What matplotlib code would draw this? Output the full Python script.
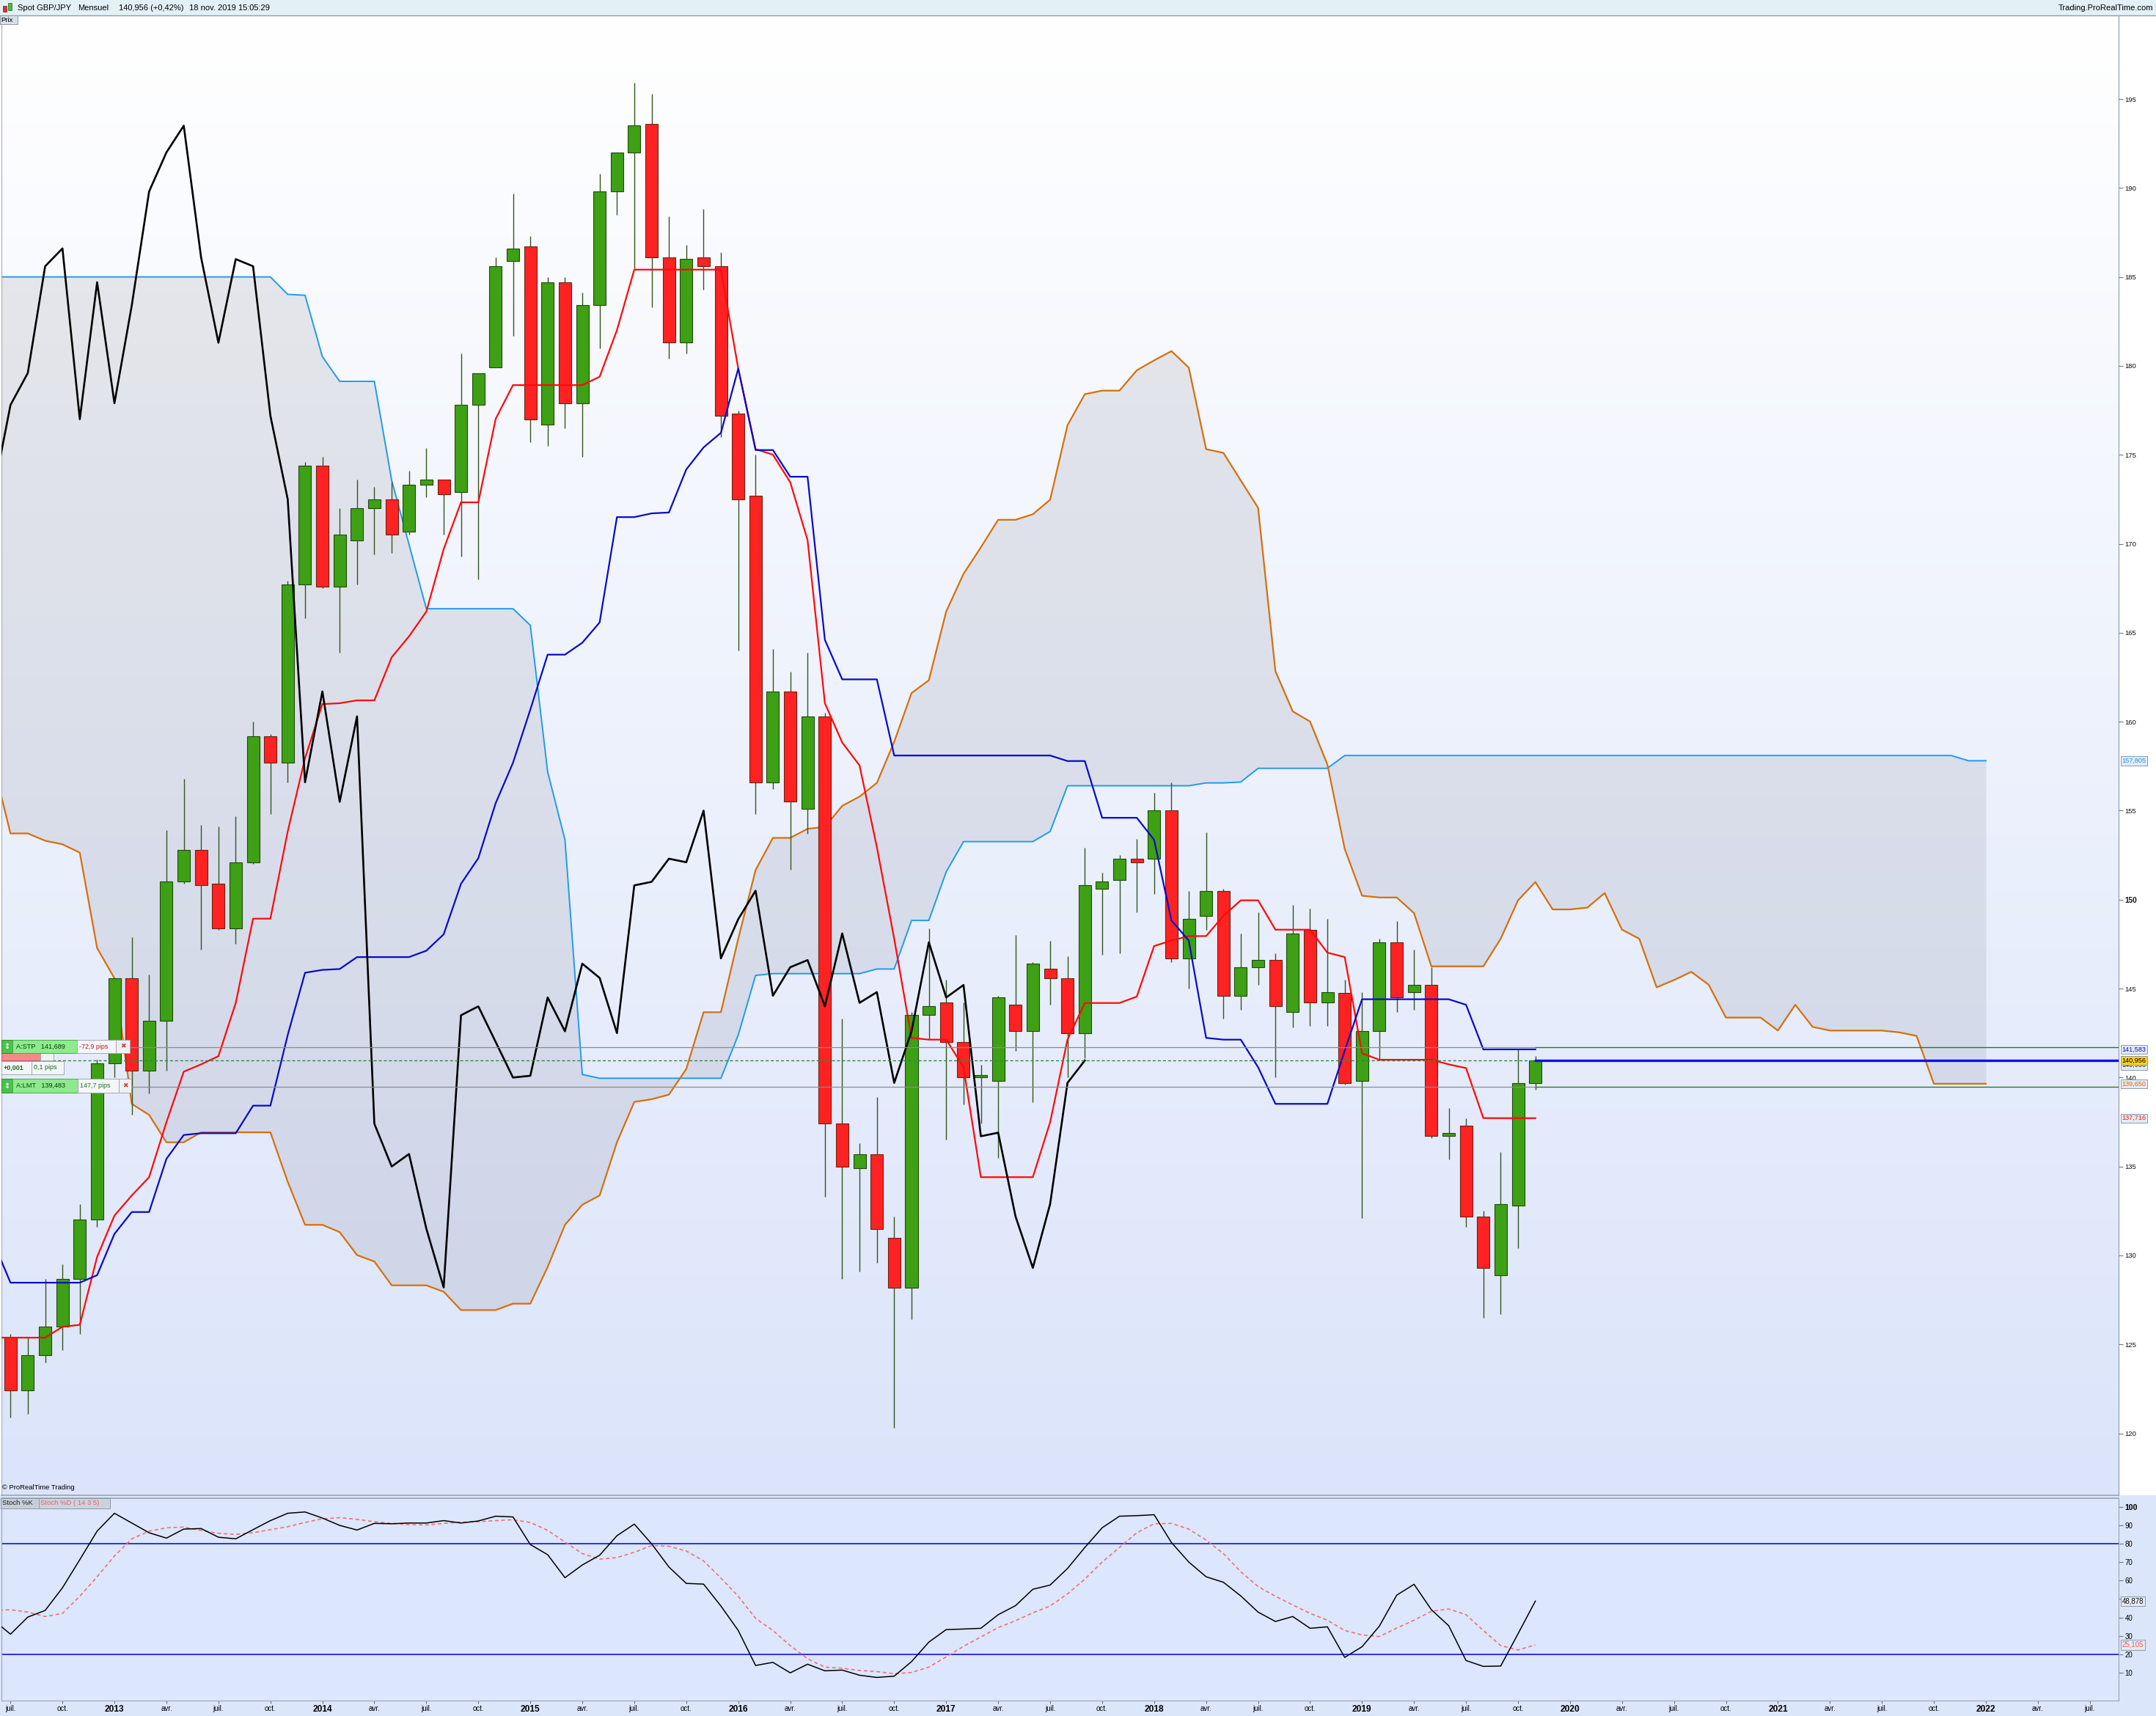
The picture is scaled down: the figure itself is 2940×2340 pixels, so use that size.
import numpy as np
import matplotlib
matplotlib.use("Agg")
import matplotlib.pyplot as plt
from matplotlib.patches import Rectangle
from matplotlib.transforms import blended_transform_factory

# ---------------- data ----------------
# Monthly candles GBP/JPY, Jul 2012 .. Nov 2019 ; month index relative to Jan 2013
first_candle_month = -6
candle_open = [125.4, 122.4, 124.4, 126.0, 128.7, 132.0, 140.8, 145.6, 140.4, 143.2,
               151.0, 152.8, 150.9, 148.4, 152.1, 159.2, 157.7, 167.7, 174.4, 167.6,
               170.2, 172.0, 172.5, 170.7, 173.3, 173.6, 172.9, 177.8, 179.9, 185.9,
               186.7, 176.7, 184.7, 177.9, 183.4, 189.8, 192.0, 193.6, 186.1, 181.3,
               186.1, 185.6, 177.3, 172.7, 156.6, 161.7, 155.1, 160.3, 137.4, 134.9,
               135.7, 131.0, 128.2, 143.5, 144.2, 142.0, 140.0, 139.8, 144.1, 142.6,
               146.1, 145.6, 142.5, 150.6, 151.1, 152.3, 152.3, 155.0, 146.7, 149.1,
               150.5, 144.6, 146.2, 146.6, 143.7, 148.3, 144.2, 144.75, 139.8, 142.6,
               147.6, 144.8, 145.2, 136.7, 137.3, 132.2, 128.9, 132.8, 139.7]
candle_high = [125.6, 125.4, 128.7, 129.5, 132.9, 141.0, 145.6, 147.9, 145.8, 153.9,
               156.8, 154.2, 154.1, 154.7, 160.0, 159.3, 167.9, 174.6, 174.9, 172.0,
               173.6, 173.2, 173.5, 174.1, 175.4, 173.6, 180.7, 179.6, 186.1, 189.7,
               187.3, 185.0, 185.0, 184.1, 190.8, 192.0, 195.9, 195.3, 188.4, 186.8,
               188.8, 186.4, 177.5, 175.0, 164.1, 162.8, 163.9, 160.5, 143.3, 136.3,
               138.9, 132.2, 143.7, 148.4, 145.5, 144.2, 140.7, 144.6, 148.0, 146.5,
               147.7, 146.8, 152.9, 151.5, 152.5, 153.4, 156.0, 156.6, 150.5, 153.8,
               150.6, 148.1, 149.3, 147.0, 149.7, 149.5, 148.9, 145.5, 144.8, 147.8,
               148.8, 147.2, 146.2, 138.3, 137.7, 132.5, 135.8, 141.6, 141.2]
candle_low = [120.9, 121.1, 124.0, 124.7, 125.6, 131.6, 140.0, 137.9, 139.1, 140.4,
              150.9, 147.2, 148.3, 147.5, 152.0, 154.8, 156.6, 165.8, 167.5, 163.9,
              167.7, 169.4, 169.5, 170.5, 172.6, 170.5, 169.3, 168.0, 180.4, 181.7,
              175.7, 175.5, 176.5, 174.9, 181.0, 188.5, 185.5, 183.3, 180.4, 180.7,
              184.3, 176.0, 164.0, 154.8, 156.2, 151.7, 153.7, 133.3, 128.7, 129.1,
              129.6, 120.3, 126.4, 142.1, 136.5, 138.5, 137.4, 135.5, 141.5, 138.6,
              144.1, 140.0, 141.1, 146.9, 147.0, 149.3, 150.3, 146.5, 145.0, 148.3,
              143.3, 143.8, 145.2, 140.0, 142.8, 142.9, 142.9, 139.6, 132.1, 141.0,
              143.7, 143.8, 136.6, 135.4, 131.6, 126.5, 126.7, 130.4, 139.3]
candle_close = [122.4, 124.4, 126.0, 128.7, 132.0, 140.8, 145.6, 140.4, 143.2, 151.0,
                152.8, 150.8, 148.4, 152.1, 159.2, 157.7, 167.7, 174.4, 167.6, 170.5,
                172.0, 172.5, 170.5, 173.3, 173.6, 172.8, 177.8, 179.6, 185.6, 186.6,
                177.0, 184.7, 177.9, 183.4, 189.8, 192.0, 193.5, 186.1, 181.3, 186.0,
                185.6, 177.2, 172.5, 156.6, 161.7, 155.5, 160.3, 137.4, 135.0, 135.7,
                131.5, 128.2, 143.5, 144.0, 142.0, 140.0, 140.1, 144.5, 142.6, 146.4,
                145.6, 142.5, 150.8, 151.0, 152.3, 152.1, 155.0, 146.7, 148.9, 150.5,
                144.6, 146.2, 146.6, 144.0, 148.1, 144.2, 144.8, 139.7, 142.6, 147.6,
                144.5, 145.2, 136.7, 136.9, 132.2, 129.3, 132.9, 139.7, 140.956]

# Ichimoku lines, Jun 2012 .. Nov 2019
line_first_month = -7
tenkan = [125.38, 125.38, 125.38, 125.38, 125.99, 126.10, 129.92, 132.24, 133.37, 134.40, 137.49,
          140.33, 140.74, 141.20, 144.19, 148.93, 148.93, 153.83, 157.95, 160.99, 161.04,
          161.20, 161.20, 163.62, 164.80, 166.19, 169.70, 172.33, 172.33, 177.02, 178.92,
          178.92, 178.92, 178.92, 178.92, 179.39, 182.01, 185.41, 185.41, 185.41, 185.41,
          185.41, 185.41, 179.85, 175.32, 175.01, 173.46, 170.21, 161.04, 158.83, 157.54,
          152.95, 147.80, 142.23, 142.13, 142.13, 140.58, 134.40, 134.40, 134.40, 134.40,
          137.49, 142.13, 144.19, 144.19, 144.19, 144.55, 147.39, 147.70, 147.95, 147.95,
          149.09, 149.96, 149.96, 148.31, 148.31, 148.31, 147.02, 146.77, 141.36, 141.00,
          141.00, 141.00, 141.00, 140.74, 140.53, 137.72, 137.716, 137.716, 137.716]
kijun = [130.79, 128.47, 128.47, 128.47, 128.47, 128.47, 128.89, 131.21, 132.44, 132.44, 135.43,
         136.77, 136.87, 136.87, 136.87, 138.42, 138.42, 142.39, 145.89, 146.05, 146.10,
         146.77, 146.77, 146.77, 146.77, 147.13, 148.05, 150.89, 152.33, 155.42, 157.69,
         160.68, 163.77, 163.77, 164.44, 165.58, 171.50, 171.50, 171.71, 171.76, 174.18,
         175.42, 176.24, 179.85, 175.27, 175.27, 173.77, 173.77, 164.60, 162.38, 162.38,
         162.38, 158.10, 158.10, 158.10, 158.10, 158.10, 158.10, 158.10, 158.10, 158.10,
         158.10, 157.79, 157.79, 154.60, 154.60, 154.60, 153.36, 148.83, 147.70, 142.23,
         142.13, 142.13, 140.58, 138.52, 138.52, 138.52, 138.52, 141.51, 144.40, 144.40,
         144.40, 144.40, 144.40, 144.40, 144.09, 141.58, 141.583, 141.583, 141.583]
# Senkou spans (plotted 26 months ahead), Jun 2012 .. Jan 2022
senkou_a = [185.00, 185.00, 185.00, 185.00, 185.00, 185.00, 185.00, 185.00, 185.00, 185.00,
            185.00, 185.00, 185.00, 185.00, 185.00, 185.00, 185.00, 184.02, 183.97, 180.52,
            179.13, 179.13, 179.13, 173.56, 169.96, 166.35, 166.35, 166.35, 166.35, 166.35,
            166.35, 165.42, 157.18, 153.36, 140.17, 139.96, 139.96, 139.96, 139.96, 139.96,
            139.96, 139.96, 139.96, 142.39, 145.74, 145.84, 145.84, 145.84, 145.84, 145.84,
            145.84, 146.10, 146.10, 148.83, 148.83, 151.56, 153.26, 153.26, 153.26, 153.26,
            153.26, 153.83, 156.40, 156.40, 156.40, 156.40, 156.40, 156.40, 156.40, 156.40,
            156.56, 156.56, 156.61, 157.38, 157.38, 157.38, 157.38, 157.38, 158.10, 158.10,
            158.10, 158.10, 158.10, 158.10, 158.10, 158.10, 158.10, 158.10, 158.10, 158.10,
            158.10, 158.10, 158.10, 158.10, 158.10, 158.10, 158.10, 158.10, 158.10, 158.10,
            158.10, 158.10, 158.10, 158.10, 158.10, 158.10, 158.10, 158.10, 158.10, 158.10,
            158.10, 158.10, 158.10, 158.10, 157.805, 157.805]
senkou_b = [157.69, 153.72, 153.72, 153.31, 153.11, 152.64, 147.28, 145.58, 138.52, 137.90,
            136.36, 136.36, 136.92, 136.92, 136.92, 136.92, 136.92, 134.14, 131.72, 131.72,
            131.31, 130.02, 129.66, 128.32, 128.32, 128.32, 127.96, 126.93, 126.93, 126.93,
            127.29, 127.29, 129.35, 131.72, 132.85, 133.37, 136.36, 138.63, 138.78, 139.04,
            140.48, 143.67, 143.67, 147.80, 151.66, 153.47, 153.47, 153.98, 154.08, 155.27,
            155.79, 156.56, 158.87, 161.61, 162.33, 166.19, 168.31, 169.80, 171.35, 171.35,
            171.66, 172.48, 176.66, 178.41, 178.61, 178.61, 179.75, 180.31, 180.83, 179.90,
            175.32, 175.11, 173.56, 172.02, 162.84, 160.58, 160.01, 157.59, 152.85, 150.22,
            150.12, 150.12, 149.24, 146.25, 146.25, 146.25, 146.25, 147.80, 149.96, 150.99,
            149.45, 149.45, 149.55, 150.37, 148.31, 147.80, 145.07, 145.48, 145.94, 145.22,
            143.37, 143.37, 143.37, 142.64, 144.09, 142.85, 142.64, 142.64, 142.64, 142.64,
            142.54, 142.34, 139.65, 139.65, 139.65, 139.65]
chikou_shift = 26

# Stochastic (14,3,5), Jun 2012 .. Nov 2019
stoch_k = [38.7, 30.9, 40.2, 43.8, 56.1, 71.4, 86.9, 96.6, 91.3, 86.0, 83.1,
           88.0, 88.3, 83.6, 82.7, 87.7, 92.6, 96.6, 97.3, 94.0, 90.0,
           87.5, 91.1, 90.9, 91.3, 91.3, 92.6, 91.3, 92.4, 95.0, 94.6,
           79.6, 74.1, 61.6, 68.5, 73.8, 84.4, 90.7, 80.0, 67.4, 58.5,
           58.1, 46.2, 32.9, 13.9, 15.6, 9.9, 14.6, 11.0, 11.4, 8.6,
           7.4, 8.1, 16.0, 26.6, 33.4, 33.7, 34.1, 41.5, 46.4, 55.3,
           57.6, 66.6, 78.0, 88.7, 95.0, 95.3, 95.8, 80.7, 70.1, 62.1,
           59.1, 51.7, 42.9, 37.8, 40.5, 34.1, 34.9, 18.3, 24.1, 35.3,
           52.1, 58.0, 44.2, 35.5, 16.6, 13.4, 13.6, 31.1, 48.878]
stoch_d = [43.7, 44.2, 42.9, 40.5, 42.2, 51.5, 62.1, 73.4, 82.7, 86.9, 88.7,
           89.1, 87.3, 85.7, 85.1, 86.0, 87.7, 89.3, 91.6, 93.6, 94.2,
           93.3, 92.0, 91.1, 90.4, 90.3, 91.1, 91.7, 92.0, 92.6, 93.1,
           91.6, 87.3, 81.0, 74.7, 71.7, 72.5, 75.4, 79.1, 78.7, 76.1,
           70.7, 61.4, 51.5, 39.5, 32.9, 24.7, 17.6, 13.0, 12.4, 11.2,
           10.6, 9.4, 10.1, 13.0, 18.6, 24.3, 29.4, 34.5, 38.2, 42.5,
           46.2, 52.8, 60.8, 70.1, 78.0, 86.0, 90.9, 91.1, 88.0, 82.0,
           74.7, 64.8, 56.8, 51.5, 46.8, 42.2, 38.5, 32.9, 30.5, 29.6,
           34.2, 38.5, 43.3, 44.6, 41.5, 32.9, 24.7, 22.3, 25.105]
stoch_levels = [80, 20]

# order levels
stop_level = 141.689
limit_level = 139.483

price_ticks = list(range(120, 200, 5))
stoch_ticks = list(range(10, 101, 10))
month_names = {3: 'avr.', 6: 'juil.', 9: 'oct.'}
axis_month_range = (-6, 114)

# ---------------- figure ----------------
W, H = 2940, 2340
DPI = 100
FONT = ['Liberation Sans', 'DejaVu Sans']
NARROW = ['Liberation Sans Narrow', 'Liberation Sans', 'DejaVu Sans']
plt.rcParams['font.family'] = FONT

fig = plt.figure(figsize=(W / DPI, H / DPI), dpi=DPI, facecolor='white')


def pbox(x0, y0, x1, y1, fc, ec='#9AA6AE', lw=0.7, z=20):
    r = Rectangle((x0 / W, 1 - y1 / H), (x1 - x0) / W, (y1 - y0) / H,
                  transform=fig.transFigure, fc=fc, ec=ec, lw=lw, zorder=z)
    fig.add_artist(r)


def ptext(x, y, s, size=6.5, color='black', ha='left', va='center',
          weight='normal', z=21, family=None):
    fig.text(x / W, 1 - y / H, s, fontsize=size, color=color, ha=ha, va=va,
             fontweight=weight, zorder=z, family=family if family else FONT)


L_PX, R_PX = 2, 2889
MAIN_TOP, MAIN_BOT = 21, 2039
ST_TOP, ST_BOT = 2043, 2319

# background strips
pbox(0, 0, W, MAIN_TOP, '#E3F1F7', ec='none', lw=0, z=-5)
pbox(0, MAIN_BOT, W, H, '#DCE6FB', ec='none', lw=0, z=-5)

ax = fig.add_axes([L_PX / W, 1 - MAIN_BOT / H, (R_PX - L_PX) / W, (MAIN_BOT - MAIN_TOP) / H])
axs = fig.add_axes([L_PX / W, 1 - ST_BOT / H, (R_PX - L_PX) / W, (ST_BOT - ST_TOP) / H])

XL = (-6.52, 115.66)
YL = (116.52, 199.70)
SYL = (-5.18, 104.78)

# gradient background of the price panel
top_c = np.array([255, 255, 255]) / 255.0
bot_c = np.array([219, 228, 250]) / 255.0
t = np.linspace(0, 1, 256)[:, None]
grad = (bot_c * (1 - t) + top_c * t)[:, None, :]
ax.imshow(grad, extent=[XL[0], XL[1], YL[0], YL[1]], origin='lower', aspect='auto', zorder=0)

# ---------------- price panel ----------------
cm = np.arange(len(candle_close)) + first_candle_month
o = np.array(candle_open)
c = np.array(candle_close)
hi = np.array(candle_high)
lo = np.array(candle_low)
lm = np.arange(len(tenkan)) + line_first_month
sm = np.arange(len(senkou_a)) + line_first_month

# cloud
ax.fill_between(sm, senkou_a, senkou_b, color='#7C7E8C', alpha=0.16, lw=0, zorder=1)
ax.plot(sm, senkou_a, color='#1E9BEF', lw=1.4, zorder=2)
ax.plot(sm, senkou_b, color='#D5700C', lw=1.6, zorder=2)

# candles
up = c >= o
body_bot = np.minimum(o, c)
body_h = np.maximum(np.abs(c - o), 0.12)
ax.vlines(cm, lo, hi, color='#34561E', lw=1.0, zorder=4)
ax.bar(cm[up], body_h[up], bottom=body_bot[up], width=0.72, color='#3EA014',
       edgecolor='#1F4A0C', linewidth=0.8, zorder=5)
ax.bar(cm[~up], body_h[~up], bottom=body_bot[~up], width=0.72, color='#FF2222',
       edgecolor='#6A2410', linewidth=0.8, zorder=5)

# tenkan / kijun / chikou
ax.plot(lm, tenkan, color='#FF0A0A', lw=1.6, zorder=6)
ax.plot(lm, kijun, color='#0A0AC8', lw=1.6, zorder=6)
ax.plot(cm - chikou_shift, c, color='black', lw=1.9, zorder=6)

# order / price levels
last_m = cm[-1]
last_price = c[-1]
ax.plot([XL[0], last_m], [stop_level] * 2, color='#8C8C8C', lw=0.9, zorder=7)
ax.plot([XL[0], last_m], [limit_level] * 2, color='#8C8C8C', lw=0.9, zorder=7)
ax.plot([XL[0], last_m], [last_price] * 2, color='#2E8B3E', lw=1.0, ls=(0, (3, 2)), zorder=7)
ax.plot([last_m, XL[1]], [stop_level] * 2, color='#1F7F1F', lw=1.0, zorder=7)
ax.plot([last_m, XL[1]], [limit_level] * 2, color='#1F7F1F', lw=1.0, zorder=7)
ax.plot([last_m, XL[1]], [last_price] * 2, color='#1010E6', lw=2.4, zorder=7)

ax.set_xlim(*XL)
ax.set_ylim(*YL)
ax.set_yticks(price_ticks, labels=[str(v) for v in price_ticks])
ax.yaxis.tick_right()
ax.tick_params(axis='y', direction='out', length=4, width=0.8, color='#6A7886',
               labelsize=6.8, pad=2, labelcolor='#111111')
for lab in ax.get_yticklabels():
    if lab.get_text() == '150':
        lab.set_fontweight('bold')
        lab.set_fontsize(7.2)
ax.tick_params(axis='x', bottom=False, labelbottom=False)
ax.spines['top'].set_visible(False)
ax.spines['right'].set_color('#8C9AA8')
ax.spines['left'].set_color('#A4AEB8')
ax.spines['bottom'].set_color('#98A4B0')
ax.spines['bottom'].set_linewidth(1.2)

# right axis value boxes
tr = blended_transform_factory(ax.transAxes, ax.transData)
xa = 1.0015
value_boxes = [
    (157.805, '157,805', '#1E9BEF', '#E4EAF2'),
    (140.70, '140,956', '#222222', '#E4EAF2'),
    (141.583, '141,583', '#1010C8', '#E4EAF2'),
    (139.650, '139,650', '#D5700C', '#E4EAF2'),
    (137.716, '137,716', '#FF1A1A', '#E4EAF2'),
    (last_price, '140,956', '#000000', '#FFD21E'),
]
for val, txt, col, fc in value_boxes:
    ax.text(xa, val, txt, transform=tr, fontsize=6.6, color=col, ha='left', va='center',
            clip_on=False, zorder=30,
            bbox=dict(boxstyle='square,pad=0.18', fc=fc, ec='#8A9AB0', lw=0.7))

ax.text(0.0005, 0.003, '\u00a9 ProRealTime Trading', transform=ax.transAxes, fontsize=6.8,
        family=NARROW, ha='left', va='bottom', zorder=8)

# ---------------- stochastic panel ----------------
axs.set_facecolor('#DCE6FC')
km = np.arange(len(stoch_k)) + line_first_month
for lvl in stoch_levels:
    axs.axhline(lvl, color='#2222E6', lw=1.3, zorder=2)
axs.plot(km, stoch_d, color='#F07272', lw=1.2, ls=(0, (3, 2.2)), zorder=3)
axs.plot(km, stoch_k, color='black', lw=1.1, zorder=4)
axs.set_xlim(*XL)
axs.set_ylim(*SYL)
# the "50" label sits under the %K value box in the reference
axs.set_yticks(stoch_ticks, labels=['' if v == 50 else str(v) for v in stoch_ticks])
axs.yaxis.tick_right()
axs.tick_params(axis='y', direction='out', length=4, width=0.8, color='#6A7886',
                labelsize=7, pad=2)
for lab in axs.get_yticklabels():
    lab.set_family(NARROW)
    if lab.get_text() == '100':
        lab.set_fontweight('bold')
        lab.set_fontsize(7.6)

xt = list(range(axis_month_range[0], axis_month_range[1] + 1, 3))
xlabels = []
for m in xt:
    mm = m % 12
    xlabels.append(str(2013 + m // 12) if mm == 0 else month_names[mm])
axs.set_xticks(xt, labels=xlabels)
axs.tick_params(axis='x', direction='out', length=3, width=0.8, color='#6A7886',
                labelsize=7, pad=1.5)
for lab in axs.get_xticklabels():
    lab.set_family(NARROW)
    if lab.get_text().isdigit():
        lab.set_fontweight('bold')
        lab.set_fontsize(8.6)
for s in ['top', 'bottom', 'right', 'left']:
    axs.spines[s].set_color('#98A4B0')
axs.spines['top'].set_linewidth(1.2)

tr2 = blended_transform_factory(axs.transAxes, axs.transData)
for val, txt, col in [(stoch_k[-1], '48,878', '#111111'), (stoch_d[-1], '25,105', '#F06060')]:
    axs.text(xa, val, txt, transform=tr2, fontsize=7, family=NARROW, color=col,
             ha='left', va='center', clip_on=False, zorder=30,
             bbox=dict(boxstyle='square,pad=0.18', fc='#E4EAF2', ec='#8A9AB0', lw=0.7))

# stochastic legend
pbox(1, 2043, 53, 2057, '#C6CED8', ec='#8E9AA6', z=20)
pbox(53, 2043, 150, 2057, '#CBD3DE', ec='#8E9AA6', z=20)
ptext(3, 2050, 'Stoch %K', size=6.8, color='#222222', family=NARROW)
ptext(55, 2050, 'Stoch %D ( 14 3 5)', size=6.8, color='#F06060', family=NARROW)

# ---------------- header ----------------
fig.add_artist(plt.Line2D([0, 1], [1 - 20.5 / H] * 2, transform=fig.transFigure,
                          color='#8E9CA8', lw=1.0, zorder=5))
pbox(4, 8, 9, 16, '#E03030', ec='#702020', lw=0.5, z=6)
pbox(11, 4, 16, 14, '#40C040', ec='#206020', lw=0.5, z=6)
ptext(24, 11, 'Spot GBP/JPY', size=8)
ptext(106, 11, 'Mensuel', size=8)
ptext(162, 11, '140,956 (+0,42%)', size=8)
ptext(258, 11, '18 nov. 2019 15:05:29', size=8)
ptext(2936, 11, 'Trading.ProRealTime.com', size=8, ha='right')
pbox(0, 21, 24, 33, '#D6E0E8', ec='#8E9CA8', z=20)
ptext(1.5, 27, 'Prix', size=6.8)

# ---------------- order tickets (left) ----------------
SYM = ['DejaVu Sans']
pbox(2, 1434, 55, 1446, '#F28A8A', ec='#B06060', z=19)
pbox(55, 1434, 73, 1446, '#EEF0F2', ec='#A0A8B0', z=19)
# STP
pbox(2, 1418, 17, 1436, '#4CC24C', ec='#2C8A2C', z=20)
ptext(9.5, 1427, '\u2195', size=7, color='white', ha='center', weight='bold', family=SYM)
pbox(17, 1418, 105, 1436, '#8DEB8D', ec='#4CA84C', z=20)
ptext(22, 1427, 'A:STP   141,689', size=6.6, color='#0A3A0A')
pbox(105, 1418, 158, 1436, '#F4F6F8', ec='#A0A8B0', z=20)
ptext(108, 1427, '-72,9 pips', size=6.4, color='#B01E1E')
pbox(158, 1418, 177, 1436, '#EEF0F2', ec='#A0A8B0', z=20)
ptext(167.5, 1427, '\u2716', size=6.5, color='#D04444', ha='center', family=SYM)
# entry
pbox(2, 1447, 43, 1465, '#F4F6F6', ec='#A0A8B0', z=20)
ptext(5, 1456, '+0,001', size=6.4, color='#1A6A1A', weight='bold')
pbox(43, 1447, 87, 1465, '#F4F6F6', ec='#A0A8B0', z=20)
ptext(46, 1456, '0,1 pips', size=6.4, color='#1A6A1A')
# LMT
pbox(2, 1471, 17, 1490, '#4CC24C', ec='#2C8A2C', z=20)
ptext(9.5, 1480.5, '\u2195', size=7, color='white', ha='center', weight='bold', family=SYM)
pbox(17, 1471, 106, 1490, '#8DEB8D', ec='#4CA84C', z=20)
ptext(22, 1480.5, 'A:LMT   139,483', size=6.6, color='#0A3A0A')
pbox(106, 1471, 162, 1490, '#F4F6F8', ec='#A0A8B0', z=20)
ptext(109, 1480.5, '147,7 pips', size=6.4, color='#1A7A1A')
pbox(162, 1471, 179, 1490, '#EEF0F2', ec='#A0A8B0', z=20)
ptext(170.5, 1480.5, '\u2716', size=6.5, color='#D04444', ha='center', family=SYM)

fig.savefig('out.png', dpi=DPI, facecolor='white')
